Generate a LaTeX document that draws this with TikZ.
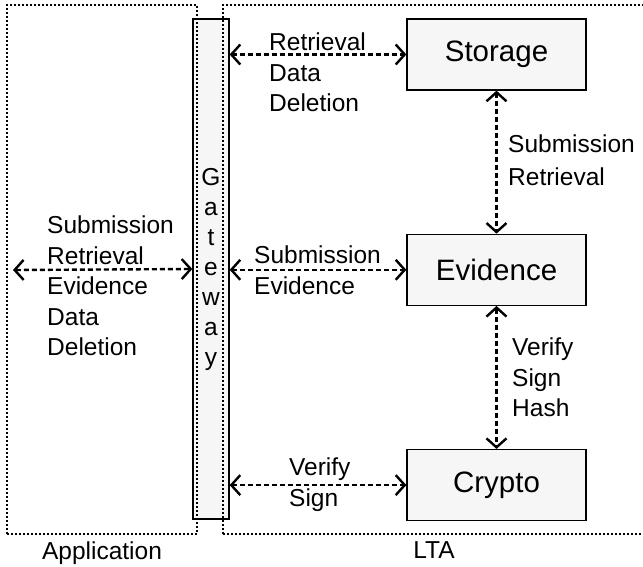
\documentclass[tikz,border=0pt]{standalone}
\usepackage{fontspec}
\setmainfont{Liberation Sans}
\usetikzlibrary{arrows.meta, positioning}
\tikzset{
  modul/.style={rectangle, draw=black, line width=1.3pt, fill=gray!7,
    minimum width=179pt, minimum height=71pt, font=\fontsize{29.5}{35}\selectfont},
  gerbang/.style={rectangle, draw=black, line width=1.3pt, fill=gray!7,
    minimum width=36pt, minimum height=500pt, align=center, inner sep=0pt,
    font=\fontsize{24.5}{30}\selectfont},
  wilayah/.style={rectangle, draw=black, line width=1.3pt, dash pattern=on 2pt off 2pt, inner sep=0pt},
  ket/.style={align=left, inner sep=0pt, anchor=north west, font=\fontsize{24.5}{30.5}\selectfont},
  panah/.style={{Straight Barb[length=9pt, width=20pt]}-{Straight Barb[length=9pt, width=20pt]},
    line width=2.4pt, dash pattern=on 5pt off 3pt}
}

\begin{document}
\begin{tikzpicture}[x=1pt, y=-1pt, node distance=143pt]
  \useasboundingbox (0,0) rectangle (643,566);
  \node[gerbang] (gw) at (211,269) {G\\a\\t\\e\\w\\a\\y};
  \node[wilayah, minimum width=190pt, minimum height=529pt] (app) at (102,269.5) {};
  \node[wilayah, minimum width=422pt, minimum height=529pt] (lta) at (434,269.5) {};
  \node[below=7pt of app, inner sep=0pt, font=\fontsize{24.5}{30}\selectfont] (appname) {Application};
  \node[below=7pt of lta, inner sep=0pt, font=\fontsize{24.5}{30}\selectfont] (ltaname) {LTA};

  \node[modul] (st) at (496.5,54.5) {Storage};
  \node[modul, below=of st] (ev) {Evidence};
  \node[modul, below=of ev] (cr) {Crypto};

  % labels
  \node[ket] (lapp) at (47,216) {Submission\\Retrieval\\Evidence\\Data\\Deletion};
  \node[ket] (lst) at (269,33) {Retrieval\\Data\\Deletion};
  \node[ket] (lev) at (254,246) {Submission\\Evidence};
  \node[ket] (lcr) at (289,458) {Verify\\Sign};
  \node[ket, font=\fontsize{24.5}{33}\selectfont] (lse) at (508,135) {Submission\\Retrieval};
  \node[ket] (lec) at (512,338) {Verify\\Sign\\Hash};

  % connectors
  \coordinate (ujung) at (13,270);
  \draw[panah] (ujung) -- (gw.west);
  \draw[panah] (gw.east |- st.west) -- (st.west);
  \draw[panah] (gw.east |- ev.west) -- (ev.west);
  \draw[panah] (gw.east |- cr.west) -- (cr.west);
  \draw[panah] (st) -- (ev);
  \draw[panah] (ev) -- (cr);
\end{tikzpicture}
\end{document}
